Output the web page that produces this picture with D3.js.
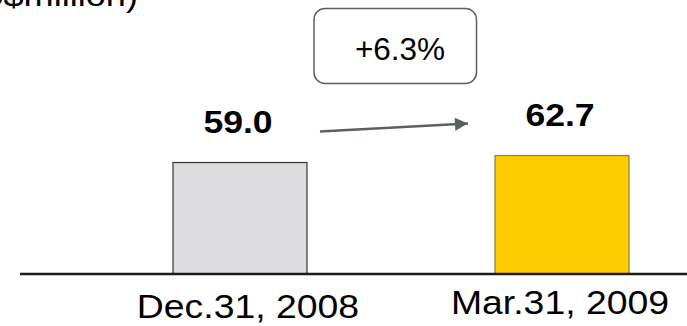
<!DOCTYPE html>
<html>
<head>
<meta charset="utf-8">
<script src="https://cdn.jsdelivr.net/npm/d3@7/dist/d3.min.js"></script>
<style>
  html, body { margin: 0; padding: 0; background: #fff; }
  svg { display: block; }
  text { font-family: "Liberation Sans", Arial, sans-serif; }
</style>
</head>
<body>
<svg id="chart" width="687" height="326"></svg>
<script>
// Period-end balances (US$ million)
const categories = ["Dec.31, 2008", "Mar.31, 2009"];
const values = [59.0, 62.7];
const valueLabels = ["59.0", "62.7"];
const barColors = ["#dcdcde", "#ffcc00"];
const barStrokes = ["#333333", "#8a7d4a"];
const unitLabel = "(US$million)";
const changeLabel = "+6.3%";

const svg = d3.select("#chart");
const W = 687, H = 326;
const baseY = 274;
const barW = 134;
const stretch = 1.13;

const x = d3.scalePoint().domain(categories).range([240, 562]);
const y = d3.scaleLinear().domain([0, 145]).range([baseY, 0]);

// unit caption, partly above the top edge
svg.append("text")
  .attr("transform", `translate(138,6) scale(${stretch},1)`)
  .attr("text-anchor", "end")
  .attr("font-size", 32)
  .attr("fill", "#000")
  .text(unitLabel);

// bars
svg.selectAll("rect.bar")
  .data(values)
  .join("rect")
  .attr("class", "bar")
  .attr("x", (d, i) => x(categories[i]) - barW / 2)
  .attr("y", d => y(d))
  .attr("width", barW)
  .attr("height", d => baseY - y(d))
  .attr("fill", (d, i) => barColors[i])
  .attr("stroke", (d, i) => barStrokes[i])
  .attr("stroke-width", 1.2);

// baseline
svg.append("line")
  .attr("x1", 20).attr("x2", W)
  .attr("y1", baseY).attr("y2", baseY)
  .attr("stroke", "#1a1a1a")
  .attr("stroke-width", 2.5);

// value labels
svg.selectAll("text.val")
  .data(values)
  .join("text")
  .attr("class", "val")
  .attr("transform", (d, i) => `translate(${x(categories[i]) - 2},${y(d) - 30}) scale(${stretch},1)`)
  .attr("text-anchor", "middle")
  .attr("font-size", 31.5)
  .attr("font-weight", "bold")
  .attr("fill", "#000")
  .text((d, i) => valueLabels[i]);

// category labels
svg.selectAll("text.cat")
  .data(categories)
  .join("text")
  .attr("class", "cat")
  .attr("transform", (d, i) => `translate(${x(d) + (i === 0 ? 8 : -2)},${i === 0 ? 318 : 314}) scale(1.15,1)`)
  .attr("text-anchor", "middle")
  .attr("font-size", 32.5)
  .attr("fill", "#000")
  .text(d => d);

// growth arrow between the two labels
const arrowColor = "#5a625e";
const defs = svg.append("defs");
defs.append("marker")
  .attr("id", "head")
  .attr("viewBox", "0 0 10 10")
  .attr("refX", 10).attr("refY", 5)
  .attr("markerWidth", 6).attr("markerHeight", 5)
  .attr("markerUnits", "strokeWidth")
  .attr("orient", "auto")
  .append("path")
  .attr("d", "M0,0 L10,5 L0,10 Z")
  .attr("fill", arrowColor);

const x0 = x(categories[0]) + 80, x1 = x(categories[1]) - 94;
svg.append("line")
  .attr("x1", x0).attr("y1", y(values[0]) - 31)
  .attr("x2", x1).attr("y2", y(values[1]) - 32)
  .attr("stroke", arrowColor)
  .attr("stroke-width", 2.6)
  .attr("marker-end", "url(#head)");

// change callout
const boxX = 314, boxY = 8.5, boxW = 162.5, boxH = 75;
svg.append("rect")
  .attr("x", boxX).attr("y", boxY)
  .attr("width", boxW).attr("height", boxH)
  .attr("rx", 11).attr("ry", 11)
  .attr("fill", "#fff")
  .attr("stroke", arrowColor)
  .attr("stroke-width", 1.5);

svg.append("text")
  .attr("x", 400).attr("y", 60)
  .attr("text-anchor", "middle")
  .attr("font-size", 31.5)
  .attr("fill", "#000")
  .text(changeLabel);
</script>
</body>
</html>
